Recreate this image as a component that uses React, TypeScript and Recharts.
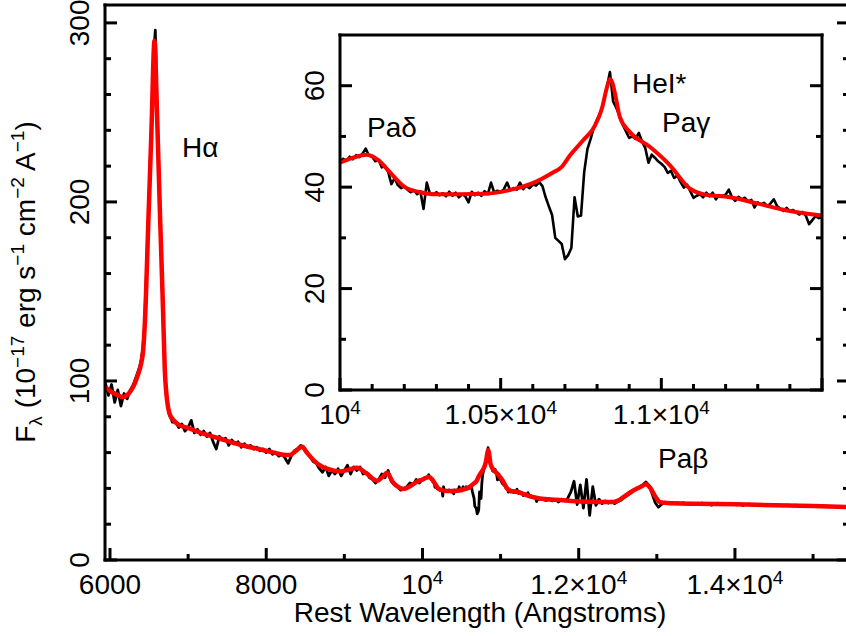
import React from 'react'
import { LineChart, Line, XAxis, YAxis } from 'recharts'

const FONT = '"Liberation Sans", Arial, Helvetica, sans-serif'

// observed spectrum (black), flux on regular wavelength grids
// 5940–6380 A, every 40 A
const obsFluxBlue = [99, 92, 98, 88, 95, 86, 93, 90, 95, 98, 103, 108]
// 6400–6800 A, every 20 A (H alpha)
const obsFluxHalpha = [
  112, 118, 130, 152, 177, 203, 229, 256, 282, 296,
  258, 226, 196, 165, 136, 106, 92, 86, 81, 79,
  77,
]
// 6840–9960 A, every 40 A
const obsFluxOptical = [
  77, 74, 76, 72, 74, 78, 71, 73, 70, 72,
  69, 71, 66, 62, 69, 67, 68, 64, 67, 65,
  66, 63, 65, 63, 64, 62, 63, 61, 62, 60,
  62, 59, 60, 58, 59, 57, 54, 58, 61, 62,
  64, 63, 60, 58, 55, 54, 51, 49, 52, 47,
  50, 48, 51, 47, 50, 53, 48, 52, 50, 52,
  48, 49, 46, 45, 43, 45, 48, 46, 50, 44,
  42, 41, 39, 40, 41, 43, 42, 45, 43,
]
// 10000–11500 A, every 10 A (inset region)
const obsFluxInset = [
  45.0, 45.6, 45.2, 46.0, 45.5, 46.3, 45.9, 46.6, 47.6, 46.2,
  46.0, 45.1, 45.4, 43.9, 44.2, 43.0, 40.6, 41.8, 40.4, 39.8,
  40.2, 39.5, 39.0, 39.4, 38.6, 39.2, 35.7, 40.9, 38.7, 38.5,
  39.0, 38.4, 38.8, 38.2, 39.1, 38.3, 38.9, 38.0, 38.6, 38.2,
  37.0, 39.1, 38.4, 38.9, 38.3, 39.2, 38.6, 40.9, 38.9, 39.3,
  39.0, 39.6, 40.9, 39.4, 39.8, 39.5, 40.9, 39.6, 40.3, 39.8,
  40.5, 40.3, 41.0, 40.2, 38.0, 36.2, 34.5, 30.0, 29.4, 28.8,
  25.8, 26.6, 28.0, 38.0, 34.2, 34.4, 43.0, 47.5, 49.5, 51.8,
  53.3, 54.6, 56.5, 59.5, 62.7, 56.9, 55.6, 54.0, 52.3, 51.0,
  49.7, 50.0, 49.5, 50.7, 49.0, 47.7, 44.8, 46.4, 45.8, 45.1,
  44.6, 44.0, 42.8, 43.2, 41.8, 42.3, 41.0, 39.9, 40.5, 39.2,
  37.9, 38.3, 38.6, 38.0, 38.9, 38.2, 38.9, 37.6, 38.4, 38.2,
  38.5, 39.5, 38.0, 37.3, 38.1, 37.6, 37.9, 37.2, 37.5, 36.0,
  37.0, 36.6, 36.9, 36.2, 36.8, 37.6, 36.3, 35.8, 35.3, 35.9,
  35.2, 35.5, 35.0, 34.6, 35.1, 34.3, 32.7, 33.5, 34.3, 33.9,
  34.0,
]
// 11540–15460 A, every 40 A
const obsFluxNIR = [
  34.0, 33.2, 34.3, 33.0, 33.8, 32.4, 34.0, 33.1, 34.5, 38.0,
  44.0, 31.0, 42.0, 29.0, 45.0, 25.0, 41.0, 30.5, 34.0, 31.5,
  33.0, 31.8, 32.8, 31.5, 32.6, 33.4, 34.8, 36.0, 37.2, 38.6,
  40.0, 40.8, 42.0, 43.6, 41.5, 37.0, 32.0, 29.5, 31.0, 32.3,
  31.8, 32.2, 31.5, 31.9, 31.3, 32.0, 31.4, 31.8, 31.0, 31.6,
  31.3, 31.8, 31.1, 31.5, 30.6, 31.4, 31.7, 31.0, 31.3, 30.9,
  31.2, 31.5, 30.8, 31.3, 30.5, 31.1, 31.2, 30.7, 31.0, 30.6,
  31.0, 30.5, 30.9, 30.7, 30.3, 30.8, 30.6, 30.2, 30.7, 30.5,
  30.2, 30.6, 29.9, 30.4, 30.1, 30.5, 29.8, 30.3, 30.0, 30.2,
  29.9, 30.1, 29.7, 30.0, 29.6, 29.9, 29.5, 29.8, 29.6,
]

// model fit (red)
const fitWave = [
  5940, 6000, 6080, 6166, 6240, 6300, 6358, 6400, 6422, 6448,
  6490, 6530, 6570, 6600, 6640, 6680, 6700, 6730, 6760, 6807,
  6880, 6986, 7200, 7370, 7664, 7900, 8100, 8215, 8300, 8380,
  8458, 8520, 8600, 8700, 8778, 8945, 9080, 9163, 9280, 9419,
  9490, 9546, 9620, 9700, 9752, 9850, 9950,
  10000, 10040, 10083, 10120, 10150, 10202, 10250, 10296, 10451, 10540,
  10607, 10660, 10690, 10716, 10756, 10794, 10815, 10830, 10840, 10848,
  10856, 10871, 10903, 10965, 11027, 11089, 11130, 11214, 11298, 11391,
  11500, 11700, 11900, 12100, 12440, 12520, 12600, 12700, 12800, 12860,
  12920, 12980, 13040, 13130, 13500, 14000, 14500, 15000, 15460,
]
const fitFlux = [
  96.5, 94.5, 92.5, 91, 93, 97, 103.5, 110, 116, 134,
  188, 239, 290, 252, 193, 138, 108, 89.5, 82, 78.4,
  75.5, 73.9, 70.5, 68.3, 64.4, 62, 60, 58.8, 58.6, 61,
  63.2, 60, 56, 52.5, 51, 49.5, 50.8, 51.5, 48.5, 44.2,
  46.5, 48.7, 43.5, 40.5, 39.7, 41.5, 44.2,
  44.9, 45.8, 46.4, 45.3, 43.3, 40, 39, 38.6, 38.7, 39.6,
  41, 42.8, 44, 46.3, 49.2, 52.2, 55.5, 59.5, 61.3, 60.5,
  58.4, 53.8, 50.8, 47.9, 44.3, 39.7, 38.6, 38, 36.8, 35.4,
  34.4, 33.6, 33, 32.6, 32.4, 33.5, 36, 38.8, 41, 42.3,
  40, 35.5, 32.3, 31.8, 31.4, 31.1, 30.6, 30.1, 29.6,
]

// ticks
const mainXMajor = [6000, 8000, 10000, 12000, 14000]
const mainXMinor = [7000, 9000, 11000, 13000, 15000]
const mainXLabels = ['6000', '8000', '10^4', '1.2×10^4', '1.4×10^4']
const mainYMajor = [0, 100, 200, 300]
const mainYMinor = [20, 40, 60, 80, 120, 140, 160, 180, 220, 240, 260, 280]
const mainYLabels = ['0', '100', '200', '300']

const insetXMajor = [10000, 10500, 11000, 11500]
const insetXMinor = [
  10100, 10200, 10300, 10400, 10600, 10700, 10800, 10900,
  11100, 11200, 11300, 11400,
]
const insetXLabels = ['10^4', '1.05×10^4', '1.1×10^4', '']
const insetYMajor = [0, 20, 40, 60]
const insetYMinor = [10, 30, 50]
const insetYLabels = ['0', '20', '40', '60']

const grid = (start: number, step: number, flux: number[]) =>
  flux.map((f, i) => ({ w: start + i * step, f }))

const obsData = [
  ...grid(5940, 40, obsFluxBlue),
  ...grid(6400, 20, obsFluxHalpha),
  ...grid(6840, 40, obsFluxOptical),
  ...grid(10000, 10, obsFluxInset),
  ...grid(11540, 40, obsFluxNIR),
]
const fitData = fitWave.map((w, i) => ({ w, f: fitFlux[i] }))

const axisLine = { stroke: '#000', strokeWidth: 3, strokeLinecap: 'square' as const }

function supText(label: string) {
  const [base, exp] = label.split('^')
  return (
    <>
      {base}
      {exp ? <tspan dy={-10} fontSize={19}>{exp}</tspan> : null}
    </>
  )
}

type Side = 'bottom' | 'top' | 'left' | 'right'

const makeTick = (side: Side, major: number[], labels?: string[]) => (props: any) => {
  const { x, y, payload } = props
  const i = major.indexOf(payload.value)
  const len = i >= 0 ? 12 : 6
  let x2 = x
  let y2 = y
  if (side === 'bottom') y2 = y - len
  if (side === 'top') y2 = y + len
  if (side === 'left') x2 = x + len
  if (side === 'right') x2 = x - len
  const label = labels && i >= 0 ? labels[i] : ''
  return (
    <g>
      <line x1={x} y1={y} x2={x2} y2={y2} stroke="#000" strokeWidth={3} />
      {label && side === 'bottom' && (
        <text x={x} y={y + 34} textAnchor="middle" fontSize={28} fontFamily={FONT} fill="#000">
          {supText(label)}
        </text>
      )}
      {label && side === 'left' && (
        <text
          x={x - 16}
          y={y}
          transform={`rotate(-90 ${x - 16} ${y})`}
          textAnchor="middle"
          fontSize={28}
          fontFamily={FONT}
          fill="#000"
        >
          {label}
        </text>
      )}
    </g>
  )
}

type FrameProps = {
  xDomain: [number, number]
  yDomain: [number, number]
  xMajor: number[]
  xMinor: number[]
  xLabels: string[]
  yMajor: number[]
  yMinor: number[]
  yLabels: string[]
}

// four framing axes, ticks pointing inward
function frameAxes({ xDomain, yDomain, xMajor, xMinor, xLabels, yMajor, yMinor, yLabels }: FrameProps) {
  const common = {
    type: 'number' as const,
    allowDataOverflow: true,
    interval: 0 as const,
    tickSize: 0,
    tickMargin: 0,
    tickLine: false,
    axisLine,
  }
  const xTicks = [...xMajor, ...xMinor]
  const yTicks = [...yMajor, ...yMinor]
  return [
    <XAxis key="xb" xAxisId="b" dataKey="w" domain={xDomain} ticks={xTicks} height={1} {...common}
      tick={makeTick('bottom', xMajor, xLabels)} />,
    <XAxis key="xt" xAxisId="t" orientation="top" domain={xDomain} ticks={xTicks} height={1} {...common}
      tick={makeTick('top', xMajor)} />,
    <YAxis key="yl" yAxisId="l" domain={yDomain} ticks={yTicks} width={1} {...common}
      tick={makeTick('left', yMajor, yLabels)} />,
    <YAxis key="yr" yAxisId="r" orientation="right" domain={yDomain} ticks={yTicks} width={1} {...common}
      tick={makeTick('right', yMajor)} />,
  ]
}

export default function App() {
  const sup = { fontSize: 19 }

  return (
    <div
      style={{
        position: 'fixed',
        left: 0,
        top: 0,
        width: 846,
        height: 636,
        overflow: 'hidden',
        background: '#fff',
      }}
    >
      <div style={{ position: 'absolute', left: 0, top: 0 }}>
        <LineChart width={870} height={636} margin={{ top: 4, right: 20, bottom: 75, left: 104 }}>
          {frameAxes({
            xDomain: [5936, 15460],
            yDomain: [0, 310],
            xMajor: mainXMajor,
            xMinor: mainXMinor,
            xLabels: mainXLabels,
            yMajor: mainYMajor,
            yMinor: mainYMinor,
            yLabels: mainYLabels,
          })}
          <Line
            xAxisId="b"
            yAxisId="l"
            data={obsData}
            dataKey="f"
            type="linear"
            stroke="#000"
            strokeWidth={2.8}
            strokeLinejoin="round"
            dot={false}
            isAnimationActive={false}
          />
          <Line
            xAxisId="b"
            yAxisId="l"
            data={fitData}
            dataKey="f"
            type="monotone"
            stroke="#ff0000"
            strokeWidth={4.5}
            strokeLinejoin="round"
            dot={false}
            isAnimationActive={false}
          />
        </LineChart>
      </div>

      <div style={{ position: 'absolute', left: 0, top: 0 }}>
        <LineChart width={846} height={636} margin={{ top: 34, right: 23, bottom: 245, left: 339 }}>
          {frameAxes({
            xDomain: [10000, 11500],
            yDomain: [0, 70],
            xMajor: insetXMajor,
            xMinor: insetXMinor,
            xLabels: insetXLabels,
            yMajor: insetYMajor,
            yMinor: insetYMinor,
            yLabels: insetYLabels,
          })}
          <Line
            xAxisId="b"
            yAxisId="l"
            data={obsData}
            dataKey="f"
            type="linear"
            stroke="#000"
            strokeWidth={2.6}
            strokeLinejoin="round"
            dot={false}
            isAnimationActive={false}
          />
          <Line
            xAxisId="b"
            yAxisId="l"
            data={fitData}
            dataKey="f"
            type="monotone"
            stroke="#ff0000"
            strokeWidth={4}
            strokeLinejoin="round"
            dot={false}
            isAnimationActive={false}
          />
        </LineChart>
      </div>

      <svg
        width={846}
        height={636}
        style={{ position: 'absolute', left: 0, top: 0, pointerEvents: 'none' }}
        fontFamily={FONT}
        fontSize={28}
      >
        <text x={480} y={622} textAnchor="middle" style={{ whiteSpace: 'pre' }}>
          Rest Wavelength (Angstroms)
        </text>
        <text
          x={35}
          y={282}
          transform="rotate(-90 35 282)"
          textAnchor="middle"
          style={{ whiteSpace: 'pre' }}
        >
          F<tspan dy={7} {...sup}>λ</tspan>
          <tspan dy={-7}> (10</tspan>
          <tspan dy={-11} {...sup}>−17</tspan>
          <tspan dy={11}> erg s</tspan>
          <tspan dy={-11} {...sup}>−1</tspan>
          <tspan dy={11}> cm</tspan>
          <tspan dy={-11} {...sup}>−2</tspan>
          <tspan dy={11}> A</tspan>
          <tspan dy={-11} {...sup}>−1</tspan>
          <tspan dy={11}>)</tspan>
        </text>
        <text x={182} y={157}>Hα</text>
        <text x={658} y={468}>Paβ</text>
        <text x={367} y={137}>Paδ</text>
        <text x={632} y={93}>HeI*</text>
        <text x={662} y={132}>Paγ</text>
      </svg>
    </div>
  )
}
